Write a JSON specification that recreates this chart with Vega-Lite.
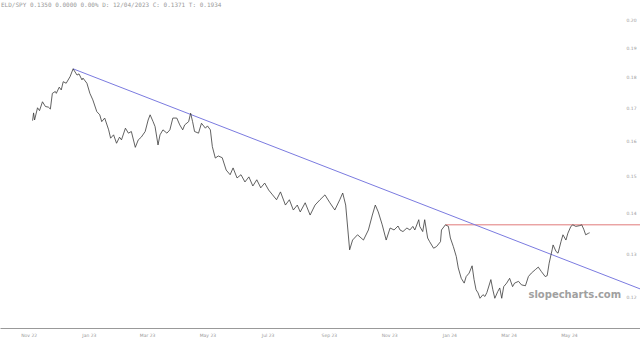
{
  "$schema": "https://vega.github.io/schema/vega-lite/v6.json",
  "width": 640,
  "height": 328,
  "padding": {"left": 0, "top": 0, "right": 0, "bottom": 14},
  "autosize": {"type": "none"},
  "background": "white",
  "config": {"view": {"stroke": null}},
  "title": {
    "text": "ELD/SPY 0.1350 0.0000 0.00% D: 12/04/2023 C: 0.1371 T: 0.1934",
    "anchor": "start",
    "frame": "group",
    "orient": "top",
    "baseline": "top",
    "offset": 0,
    "dy": 8,
    "dx": 1,
    "font": "DejaVu Sans Mono",
    "fontSize": 6,
    "fontWeight": "normal",
    "color": "#999999"
  },
  "datasets": {
    "price": [
      {"date": "2022-11-05", "v": 0.1663}, {"date": "2022-11-06", "v": 0.1687}, {"date": "2022-11-07", "v": 0.1665},
      {"date": "2022-11-10", "v": 0.1703}, {"date": "2022-11-12", "v": 0.1694}, {"date": "2022-11-15", "v": 0.1722},
      {"date": "2022-11-18", "v": 0.1707}, {"date": "2022-11-21", "v": 0.1705}, {"date": "2022-11-23", "v": 0.1699},
      {"date": "2022-11-25", "v": 0.1749}, {"date": "2022-11-28", "v": 0.1755}, {"date": "2022-11-29", "v": 0.1749},
      {"date": "2022-12-02", "v": 0.1769}, {"date": "2022-12-04", "v": 0.1760}, {"date": "2022-12-06", "v": 0.1787},
      {"date": "2022-12-09", "v": 0.1782}, {"date": "2022-12-13", "v": 0.1804}, {"date": "2022-12-16", "v": 0.1830},
      {"date": "2022-12-20", "v": 0.1809}, {"date": "2022-12-22", "v": 0.1813}, {"date": "2022-12-25", "v": 0.1793},
      {"date": "2022-12-26", "v": 0.1799}, {"date": "2022-12-30", "v": 0.1782}, {"date": "2023-01-02", "v": 0.1749},
      {"date": "2023-01-05", "v": 0.1728}, {"date": "2023-01-09", "v": 0.1691}, {"date": "2023-01-12", "v": 0.1681},
      {"date": "2023-01-14", "v": 0.1660}, {"date": "2023-01-17", "v": 0.1671}, {"date": "2023-01-21", "v": 0.1635},
      {"date": "2023-01-23", "v": 0.1610}, {"date": "2023-01-26", "v": 0.1620}, {"date": "2023-01-29", "v": 0.1595},
      {"date": "2023-02-01", "v": 0.1613}, {"date": "2023-02-03", "v": 0.1605}, {"date": "2023-02-07", "v": 0.1640},
      {"date": "2023-02-10", "v": 0.1625}, {"date": "2023-02-13", "v": 0.1630}, {"date": "2023-02-17", "v": 0.1583},
      {"date": "2023-02-20", "v": 0.1605}, {"date": "2023-02-23", "v": 0.1613}, {"date": "2023-02-27", "v": 0.1630},
      {"date": "2023-03-02", "v": 0.1665}, {"date": "2023-03-04", "v": 0.1681}, {"date": "2023-03-07", "v": 0.1660},
      {"date": "2023-03-09", "v": 0.1645}, {"date": "2023-03-12", "v": 0.1590}, {"date": "2023-03-14", "v": 0.1620},
      {"date": "2023-03-17", "v": 0.1635}, {"date": "2023-03-21", "v": 0.1625}, {"date": "2023-03-24", "v": 0.1635},
      {"date": "2023-03-27", "v": 0.1671}, {"date": "2023-03-31", "v": 0.1671}, {"date": "2023-04-03", "v": 0.1650},
      {"date": "2023-04-06", "v": 0.1635}, {"date": "2023-04-08", "v": 0.1650}, {"date": "2023-04-12", "v": 0.1660},
      {"date": "2023-04-14", "v": 0.1686}, {"date": "2023-04-16", "v": 0.1660}, {"date": "2023-04-18", "v": 0.1630},
      {"date": "2023-04-22", "v": 0.1625}, {"date": "2023-04-25", "v": 0.1655}, {"date": "2023-04-29", "v": 0.1640},
      {"date": "2023-05-01", "v": 0.1647}, {"date": "2023-05-04", "v": 0.1635}, {"date": "2023-05-06", "v": 0.1585},
      {"date": "2023-05-09", "v": 0.1552}, {"date": "2023-05-12", "v": 0.1558}, {"date": "2023-05-16", "v": 0.1553},
      {"date": "2023-05-20", "v": 0.1518}, {"date": "2023-05-24", "v": 0.1505}, {"date": "2023-05-27", "v": 0.1524},
      {"date": "2023-05-31", "v": 0.1496}, {"date": "2023-06-04", "v": 0.1505}, {"date": "2023-06-08", "v": 0.1485},
      {"date": "2023-06-12", "v": 0.1499}, {"date": "2023-06-16", "v": 0.1474}, {"date": "2023-06-20", "v": 0.1491},
      {"date": "2023-06-24", "v": 0.1469}, {"date": "2023-06-28", "v": 0.1482}, {"date": "2023-07-02", "v": 0.1463},
      {"date": "2023-07-06", "v": 0.1450}, {"date": "2023-07-10", "v": 0.1437}, {"date": "2023-07-14", "v": 0.1458},
      {"date": "2023-07-19", "v": 0.1423}, {"date": "2023-07-23", "v": 0.1437}, {"date": "2023-07-27", "v": 0.1410},
      {"date": "2023-07-31", "v": 0.1423}, {"date": "2023-08-03", "v": 0.1405}, {"date": "2023-08-08", "v": 0.1429},
      {"date": "2023-08-13", "v": 0.1397}, {"date": "2023-08-18", "v": 0.1423}, {"date": "2023-08-23", "v": 0.1437},
      {"date": "2023-08-28", "v": 0.1450}, {"date": "2023-09-02", "v": 0.1429}, {"date": "2023-09-07", "v": 0.1410},
      {"date": "2023-09-12", "v": 0.1437}, {"date": "2023-09-15", "v": 0.1455}, {"date": "2023-09-18", "v": 0.1423},
      {"date": "2023-09-22", "v": 0.1310}, {"date": "2023-09-25", "v": 0.1334}, {"date": "2023-09-30", "v": 0.1347},
      {"date": "2023-10-06", "v": 0.1334}, {"date": "2023-10-11", "v": 0.1359}, {"date": "2023-10-15", "v": 0.1397},
      {"date": "2023-10-18", "v": 0.1423}, {"date": "2023-10-21", "v": 0.1405}, {"date": "2023-10-25", "v": 0.1372},
      {"date": "2023-10-29", "v": 0.1334}, {"date": "2023-11-02", "v": 0.1364}, {"date": "2023-11-06", "v": 0.1359},
      {"date": "2023-11-10", "v": 0.1369}, {"date": "2023-11-12", "v": 0.1359}, {"date": "2023-11-15", "v": 0.1355},
      {"date": "2023-11-19", "v": 0.1364}, {"date": "2023-11-22", "v": 0.1359}, {"date": "2023-11-25", "v": 0.1368},
      {"date": "2023-11-27", "v": 0.1359}, {"date": "2023-12-01", "v": 0.1385}, {"date": "2023-12-02", "v": 0.1368},
      {"date": "2023-12-05", "v": 0.1355}, {"date": "2023-12-07", "v": 0.1385}, {"date": "2023-12-10", "v": 0.1339},
      {"date": "2023-12-12", "v": 0.1330}, {"date": "2023-12-16", "v": 0.1314}, {"date": "2023-12-19", "v": 0.1318},
      {"date": "2023-12-23", "v": 0.1330}, {"date": "2023-12-24", "v": 0.1359}, {"date": "2023-12-28", "v": 0.1372},
      {"date": "2023-12-31", "v": 0.1368}, {"date": "2024-01-02", "v": 0.1339}, {"date": "2024-01-05", "v": 0.1318},
      {"date": "2024-01-08", "v": 0.1294}, {"date": "2024-01-10", "v": 0.1267}, {"date": "2024-01-13", "v": 0.1243},
      {"date": "2024-01-16", "v": 0.1232}, {"date": "2024-01-18", "v": 0.1247}, {"date": "2024-01-21", "v": 0.1255},
      {"date": "2024-01-24", "v": 0.1272}, {"date": "2024-01-26", "v": 0.1240}, {"date": "2024-01-28", "v": 0.1217},
      {"date": "2024-01-30", "v": 0.1210}, {"date": "2024-02-01", "v": 0.1198}, {"date": "2024-02-04", "v": 0.1206},
      {"date": "2024-02-06", "v": 0.1202}, {"date": "2024-02-08", "v": 0.1211}, {"date": "2024-02-12", "v": 0.1240},
      {"date": "2024-02-14", "v": 0.1217}, {"date": "2024-02-16", "v": 0.1198}, {"date": "2024-02-19", "v": 0.1213},
      {"date": "2024-02-21", "v": 0.1221}, {"date": "2024-02-23", "v": 0.1198}, {"date": "2024-02-25", "v": 0.1224},
      {"date": "2024-02-28", "v": 0.1232}, {"date": "2024-03-02", "v": 0.1243}, {"date": "2024-03-05", "v": 0.1224},
      {"date": "2024-03-07", "v": 0.1232}, {"date": "2024-03-11", "v": 0.1236}, {"date": "2024-03-14", "v": 0.1228},
      {"date": "2024-03-18", "v": 0.1226}, {"date": "2024-03-21", "v": 0.1247}, {"date": "2024-03-24", "v": 0.1255},
      {"date": "2024-03-28", "v": 0.1263}, {"date": "2024-03-31", "v": 0.1269}, {"date": "2024-04-03", "v": 0.1259},
      {"date": "2024-04-07", "v": 0.1247}, {"date": "2024-04-09", "v": 0.1249}, {"date": "2024-04-11", "v": 0.1278},
      {"date": "2024-04-14", "v": 0.1310}, {"date": "2024-04-15", "v": 0.1322}, {"date": "2024-04-18", "v": 0.1306},
      {"date": "2024-04-20", "v": 0.1302}, {"date": "2024-04-23", "v": 0.1330}, {"date": "2024-04-25", "v": 0.1347},
      {"date": "2024-04-28", "v": 0.1334}, {"date": "2024-04-30", "v": 0.1351}, {"date": "2024-05-03", "v": 0.1368},
      {"date": "2024-05-05", "v": 0.1372}, {"date": "2024-05-08", "v": 0.1368}, {"date": "2024-05-12", "v": 0.1370},
      {"date": "2024-05-14", "v": 0.1372}, {"date": "2024-05-16", "v": 0.1361}, {"date": "2024-05-18", "v": 0.1347},
      {"date": "2024-05-21", "v": 0.1351}, {"date": "2024-05-22", "v": 0.1352}
    ],
    "trend": [
      {"date": "2022-12-16", "v": 0.1830},
      {"date": "2024-07-12", "v": 0.1219}
    ],
    "resistance": [
      {"date": "2023-12-28", "v": 0.1372},
      {"date": "2024-07-12", "v": 0.1372}
    ]
  },
  "encoding": {
    "x": {
      "field": "date",
      "type": "temporal",
      "scale": {
        "type": "utc",
        "domain": [
          {"year": 2022, "month": 10, "date": 3, "utc": true},
          {"year": 2024, "month": 7, "date": 12, "utc": true}
        ]
      },
      "axis": {
        "title": null,
        "format": "%b %y",
        "values": [
          {"year": 2022, "month": 11, "date": 1, "utc": true},
          {"year": 2023, "month": 1, "date": 1, "utc": true},
          {"year": 2023, "month": 3, "date": 1, "utc": true},
          {"year": 2023, "month": 5, "date": 1, "utc": true},
          {"year": 2023, "month": 7, "date": 1, "utc": true},
          {"year": 2023, "month": 9, "date": 1, "utc": true},
          {"year": 2023, "month": 11, "date": 1, "utc": true},
          {"year": 2024, "month": 1, "date": 1, "utc": true},
          {"year": 2024, "month": 3, "date": 1, "utc": true},
          {"year": 2024, "month": 5, "date": 1, "utc": true}
        ],
        "grid": false,
        "ticks": false,
        "domain": true,
        "domainColor": "#999999",
        "domainWidth": 1,
        "labelFontSize": 4.5,
        "labelColor": "#999999",
        "labelPadding": 4,
        "labelFont": "DejaVu Sans"
      }
    },
    "y": {
      "field": "v",
      "type": "quantitative",
      "scale": {"type": "log", "domain": [0.1134, 0.2078], "nice": false, "zero": false},
      "axis": {
        "orient": "right",
        "title": null,
        "values": [0.12, 0.13, 0.14, 0.15, 0.16, 0.17, 0.18, 0.19, 0.2],
        "format": ".2f",
        "grid": false,
        "ticks": false,
        "domain": false,
        "labelAlign": "right",
        "labelPadding": -4,
        "labelFontSize": 4.5,
        "labelColor": "#999999",
        "labelFont": "DejaVu Sans"
      }
    }
  },
  "layer": [
    {
      "data": {"name": "resistance"},
      "mark": {"type": "line", "color": "#e07a7a", "strokeWidth": 1}
    },
    {
      "data": {"name": "trend"},
      "mark": {"type": "line", "color": "#7b7be0", "strokeWidth": 1}
    },
    {
      "data": {"name": "price"},
      "mark": {"type": "line", "color": "#3a3a3a", "strokeWidth": 0.8}
    },
    {
      "data": {"values": [{"date": "2024-05-07", "v": 0.1206, "label": "slopecharts.com"}]},
      "mark": {"type": "text", "font": "DejaVu Sans", "fontSize": 10, "fontWeight": "bold", "color": "#a0a0a0", "align": "center", "baseline": "middle"},
      "encoding": {"text": {"field": "label"}}
    }
  ]
}
